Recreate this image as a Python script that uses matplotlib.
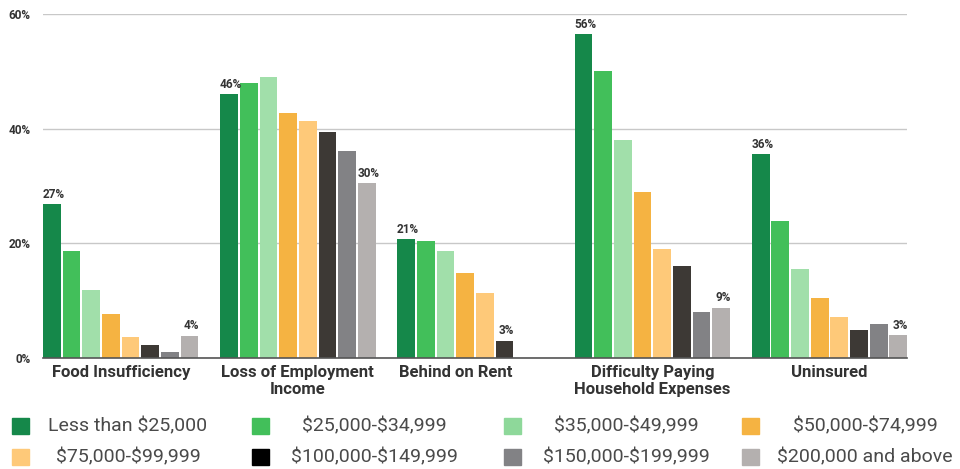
import numpy as np
import matplotlib
matplotlib.use("Agg")
import matplotlib.pyplot as plt
from matplotlib.patches import Rectangle

plt.rcParams['font.family'] = ['Roboto', 'DejaVu Sans']

# categorías y series (ingreso del hogar)
categorias = ["Food Insufficiency", "Loss of Employment\nIncome", "Behind on Rent",
              "Difficulty Paying\nHousehold Expenses", "Uninsured"]
series = ["Less than $25,000", "$25,000-$34,999", "$35,000-$49,999", "$50,000-$74,999",
          "$75,000-$99,999", "$100,000-$149,999", "$150,000-$199,999", "$200,000 and above"]
colores = ["#15884a", "#42bf5a", "#a1dfaa", "#f5b342",
           "#fec979", "#3d3935", "#828285", "#b4b0af"]
colores_leyenda = ["#15884a", "#42bf5a", "#8ed89a", "#f5b342",
                   "#fec979", "#000000", "#828285", "#b4b0af"]

# valores en % (una lista por serie, en el orden de las categorías)
menos_25k = [26.8, 46.0, 20.7, 56.5, 35.6]
de_25k_35k = [18.6, 48.0, 20.5, 50.1, 23.9]
de_35k_50k = [11.8, 49.0, 18.6, 38.1, 15.6]
de_50k_75k = [7.6, 42.7, 14.9, 29.0, 10.4]
de_75k_100k = [3.6, 41.3, 11.4, 19.1, 7.2]
de_100k_150k = [2.3, 39.4, 3.0, 16.1, 4.9]
de_150k_200k = [1.1, 36.2, np.nan, 8.1, 6.0]
mas_200k = [3.9, 30.5, np.nan, 8.8, 4.0]

# etiquetas de la primera y última barra de cada grupo
etiq_primera = ["27%", "46%", "21%", "56%", "36%"]
etiq_ultima = ["4%", "30%", "3%", "9%", "3%"]

valores = np.array([menos_25k, de_25k_35k, de_35k_50k, de_50k_75k,
                    de_75k_100k, de_100k_150k, de_150k_200k, mas_200k])

paso = 0.111
ancho = 0.1
x = np.arange(len(categorias))
offsets = (np.arange(len(series)) - 3.5) * paso

fig = plt.figure(figsize=(9.6, 4.69), dpi=100)
ax = fig.add_axes([0.0448, 0.2367, 0.9002, 0.7328])

for i, nombre in enumerate(series):
    ax.bar(x + offsets[i], valores[i], width=ancho, color=colores[i], zorder=3)

# etiquetas de valores
for j in range(len(categorias)):
    validos = np.where(~np.isnan(valores[:, j]))[0]
    primero, ultimo = validos[0], validos[-1]
    for idx, txt in [(primero, etiq_primera[j]), (ultimo, etiq_ultima[j])]:
        ax.text(x[j] + offsets[idx] + 0.01, valores[idx, j] + 0.6, txt, ha="center", va="bottom",
                fontsize=8.5, fontweight="bold", color="#333333", zorder=4)

ax.set_xlim(x[0] + offsets[0] - ancho / 2, x[-1] + offsets[-1] + ancho / 2)
ax.set_ylim(0, 60)
ax.set_yticks([0, 20, 40, 60])
ax.set_yticklabels(["0%", "20%", "40%", "60%"], fontsize=8.5, fontweight="bold", color="#333333")
ax.yaxis.grid(True, color="#c8c8c8", linewidth=1, zorder=0)
ax.tick_params(axis="y", length=0, pad=9)

# centrar cada categoría bajo sus barras con datos
centros = []
for j in range(len(categorias)):
    validos = ~np.isnan(valores[:, j])
    centros.append(x[j] + offsets[validos].mean())
ax.set_xticks(centros)
ax.set_xticklabels(categorias, fontsize=12, fontweight="bold", color="#333333", linespacing=1.2)
ax.tick_params(axis="x", length=0, pad=5)

for lado in ["top", "right", "left"]:
    ax.spines[lado].set_visible(False)
ax.spines["bottom"].set_color("#555555")
ax.spines["bottom"].set_linewidth(1.2)
ax.spines["bottom"].set_zorder(5)

# leyenda manual: 2 filas x 4 columnas, texto centrado en su celda
col_cuadro = [12, 252, 504, 742]
col_texto = [128, 374, 626, 865]
fila_y = [426, 457]
for i, nombre in enumerate(series):
    f, c = i // 4, i % 4
    y = 1 - fila_y[f] / 469
    fig.patches.append(Rectangle((col_cuadro[c] / 960, y - 8 / 469), 17 / 960, 16 / 469,
                                 transform=fig.transFigure, color=colores_leyenda[i]))
    fig.text(col_texto[c] / 960, y, nombre, ha="center", va="center", parse_math=False,
             fontsize=14, color="#4a4a4a")

fig.savefig("out.png", dpi=100)
